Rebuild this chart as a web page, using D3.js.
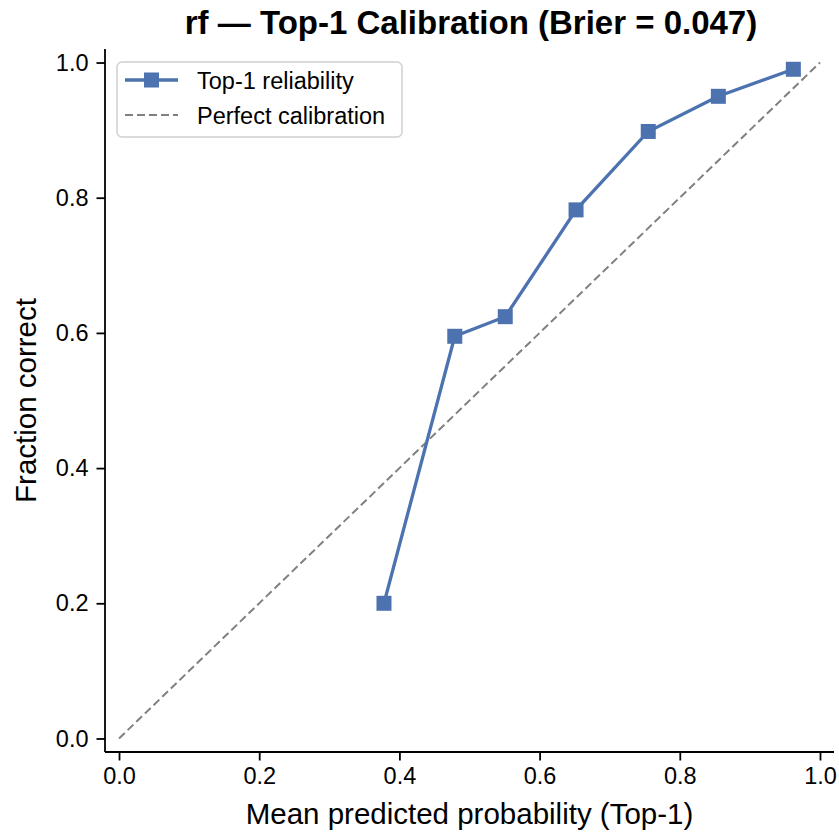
<!DOCTYPE html>
<html>
<head>
<meta charset="utf-8">
<script src="https://cdn.jsdelivr.net/npm/d3@7"></script>
<style>
  body { margin: 0; background: #fff; }
  text { font-family: "Liberation Sans", Arial, sans-serif; fill: #000; }
</style>
</head>
<body>
<script>
// reliability bins
const meanPred = [0.378, 0.479, 0.551, 0.652, 0.755, 0.855, 0.962];
const fracCorrect = [0.200, 0.595, 0.624, 0.782, 0.898, 0.950, 0.990];
const tickVals = [0, 0.2, 0.4, 0.6, 0.8, 1.0];
const diag = [0, 1];

const W = 839, H = 835;
const margin = { top: 49, right: 5, bottom: 83, left: 105 };
const width = W - margin.left - margin.right,
    height = H - margin.top - margin.bottom;

const blue = "#4C72B0";

const svg = d3.select("body")
    .append("svg")
    .attr("width", W)
    .attr("height", H);

const g = svg.append("g")
    .attr("transform", "translate(" + margin.left + "," + margin.top + ")");

const x = d3.scaleLinear().domain([-0.02, 1.02]).range([0, width]);
const y = d3.scaleLinear().domain([-0.02, 1.02]).range([height, 0]);

// axes
const xAxis = g.append("g")
    .attr("transform", "translate(0," + height + ")")
    .call(d3.axisBottom(x).tickValues(tickVals).tickFormat(d3.format(".1f")).tickSize(8.5).tickPadding(7));
const yAxis = g.append("g")
    .call(d3.axisLeft(y).tickValues(tickVals).tickFormat(d3.format(".1f")).tickSize(8.5).tickPadding(8));

[xAxis, yAxis].forEach(a => {
    a.select(".domain").attr("stroke", "#000").attr("stroke-width", 1.8);
    a.selectAll(".tick line").attr("stroke", "#000").attr("stroke-width", 1.8);
    a.selectAll(".tick text")
        .style("font-size", "23.5px")
        .style("font-family", "'Liberation Sans', Arial, sans-serif")
        .attr("fill", "#000");
});
xAxis.select(".domain").attr("d", "M0,0H" + width);
yAxis.select(".domain").attr("d", "M0," + height + "V0");

// perfect calibration
g.append("path")
    .datum(diag)
    .attr("d", d3.line().x(d => x(d)).y(d => y(d)))
    .attr("fill", "none")
    .attr("stroke", "#808080")
    .attr("stroke-width", 2)
    .attr("stroke-dasharray", "8,4");

// reliability curve
const pts = meanPred.map((d, i) => [d, fracCorrect[i]]);
g.append("path")
    .datum(pts)
    .attr("d", d3.line().x(d => x(d[0])).y(d => y(d[1])))
    .attr("fill", "none")
    .attr("stroke", blue)
    .attr("stroke-width", 3.3);

const ms = 15;
g.selectAll("rect.marker")
    .data(pts)
    .join("rect")
    .attr("class", "marker")
    .attr("x", d => x(d[0]) - ms / 2)
    .attr("y", d => y(d[1]) - ms / 2)
    .attr("width", ms)
    .attr("height", ms)
    .attr("fill", blue);

// title
svg.append("text")
    .attr("x", 471)
    .attr("y", 34)
    .attr("text-anchor", "middle")
    .attr("font-weight", "bold")
    .style("font-size", "33px")
    .text("rf \u2014 Top-1 Calibration (Brier = 0.047)");

// axis labels
svg.append("text")
    .attr("x", margin.left + width / 2)
    .attr("y", 824)
    .attr("text-anchor", "middle")
    .style("font-size", "29.5px")
    .text("Mean predicted probability (Top-1)");

svg.append("text")
    .attr("transform", "translate(36," + (margin.top + height / 2) + ") rotate(-90)")
    .attr("text-anchor", "middle")
    .style("font-size", "29.5px")
    .text("Fraction correct");

// legend
const leg = svg.append("g").attr("transform", "translate(117,62)");
leg.append("rect")
    .attr("width", 285)
    .attr("height", 75)
    .attr("rx", 5)
    .attr("fill", "#fff")
    .attr("fill-opacity", 0.8)
    .attr("stroke", "#d0d0d0")
    .attr("stroke-width", 1.5);

leg.append("line")
    .attr("x1", 8).attr("x2", 61).attr("y1", 18).attr("y2", 18)
    .attr("stroke", blue).attr("stroke-width", 3.3);
leg.append("rect")
    .attr("x", 34.5 - ms / 2).attr("y", 18 - ms / 2)
    .attr("width", ms).attr("height", ms)
    .attr("fill", blue);
leg.append("text")
    .attr("x", 80).attr("y", 26.5)
    .style("font-size", "23.5px")
    .text("Top-1 reliability");

leg.append("line")
    .attr("x1", 8).attr("x2", 61).attr("y1", 53).attr("y2", 53)
    .attr("stroke", "#808080").attr("stroke-width", 2)
    .attr("stroke-dasharray", "8,4");
leg.append("text")
    .attr("x", 80).attr("y", 61.5)
    .style("font-size", "23.5px")
    .text("Perfect calibration");
</script>
</body>
</html>
